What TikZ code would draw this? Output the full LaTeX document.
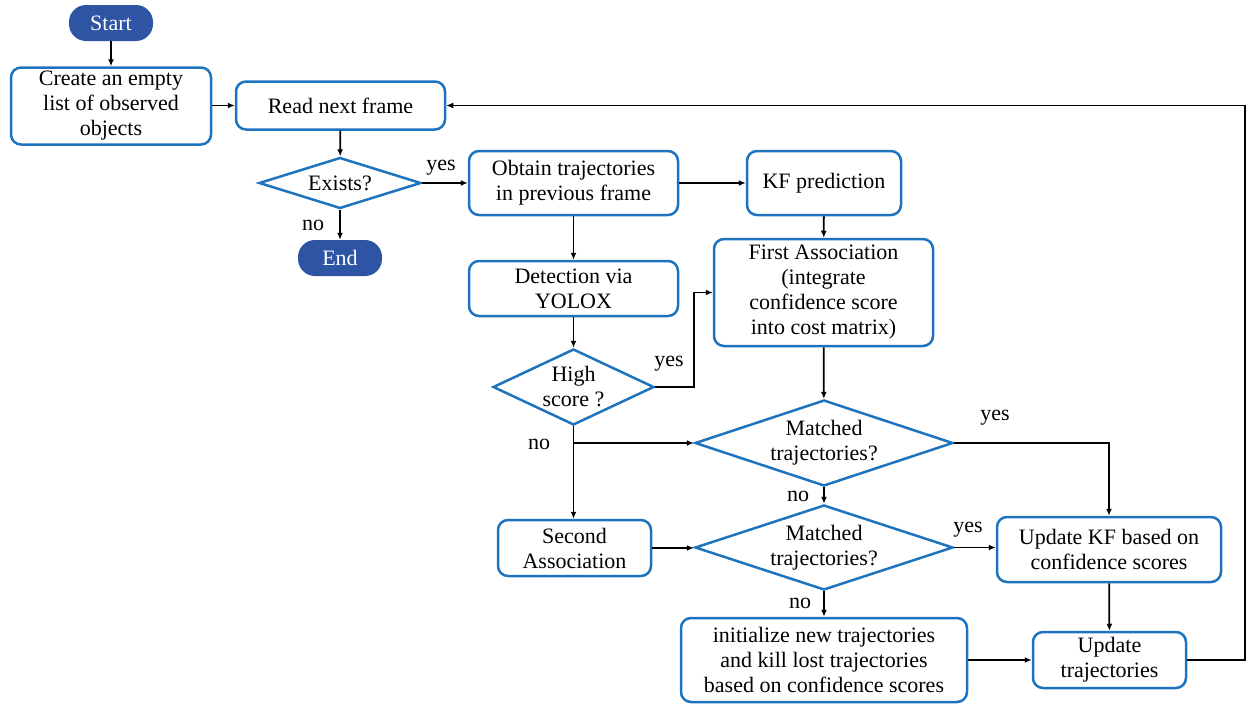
\documentclass[tikz,border=0pt]{standalone}
\usepackage{fontspec}
\setmainfont{Liberation Serif}
\usetikzlibrary{shapes.geometric,arrows.meta}
\definecolor{bblue}{RGB}{30,115,190}
\definecolor{pillc}{RGB}{46,84,164}
\begin{document}
\begin{tikzpicture}[x=1pt,y=-1pt, font=\fontsize{22}{25}\selectfont,
 box/.style={draw=bblue, line width=2.5pt, rounded corners=10pt, align=center, inner sep=0pt},
 dia/.style={draw=bblue, line width=2.5pt, diamond, align=center, inner sep=0pt},
 ml/.style={execute at begin node={\rule{0pt}{21pt}}},
 term/.style={fill=pillc, text=white, rounded corners=17pt, inner sep=0pt, minimum width=84pt, minimum height=36pt},
 arr/.style={line width=1.8pt, -{Latex[length=7pt,width=6pt]}},
 lbl/.style={inner sep=0pt}]
\useasboundingbox (0,0) rectangle (1247,704);

\node[term] (start) at (111,23) {Start};
\node[box, ml, minimum width=200pt, minimum height=77pt] (create) at (111,106) {Create an empty\\list of observed\\objects};
\node[box, minimum width=209pt, minimum height=48pt] (read) at (340.5,105.5) {Read next frame};
\node[dia, shape aspect=3.2, minimum width=162pt, minimum height=51pt] (exists) at (340,183) {Exists?};
\node[term] (end) at (340,258) {End};
\node[box, ml, minimum width=209pt, minimum height=64pt] (obtain) at (573.5,183) {Obtain trajectories\\in previous frame};
\node[box, minimum width=154pt, minimum height=64pt] (kf) at (824,183) {KF prediction};
\node[box, ml, minimum width=209pt, minimum height=55pt] (det) at (573.5,288.5) {Detection via\\YOLOX};
\node[box, ml, minimum width=219pt, minimum height=107pt] (first) at (823.5,292.5) {First Association\\(integrate\\confidence score\\into cost matrix)};
\node[dia, shape aspect=2.1, minimum width=161pt, minimum height=76pt] (high) at (573.5,387) {High\\score ?};
\node[dia, ml, shape aspect=3, minimum width=258pt, minimum height=86pt] (m1) at (824,443) {Matched\\trajectories?};
\node[box, ml, minimum width=153pt, minimum height=56pt] (second) at (574.5,548) {Second\\Association};
\node[dia, ml, shape aspect=3, minimum width=258pt, minimum height=85pt] (m2) at (824,547.5) {Matched\\trajectories?};
\node[box, ml, minimum width=224pt, minimum height=65pt] (ukf) at (1109,549.5) {Update KF based on\\confidence scores};
\node[box, ml, minimum width=286pt, minimum height=84pt] (init) at (824,660) {initialize new trajectories\\and kill lost trajectories\\based on confidence scores};
\node[box, ml, minimum width=153pt, minimum height=56pt] (utraj) at (1109.5,660) {Update\\trajectories};

\draw[arr] (start) -- (create);
\draw[arr] (create.east |- read.west) -- (read.west);
\draw[arr] (read) -- (exists);
\draw[arr] (exists) -- (end);
\draw[arr] (exists.east) -- (obtain.west |- exists.east);
\draw[arr] (obtain.east) -- (kf.west);
\draw[arr] (obtain) -- (det);
\draw[arr] (kf) -- (first);
\draw[arr] (det) -- (high);
\coordinate (hk) at (694,387);
\draw[arr] (high.east) -- (hk) |- (first.west);
\draw[arr] (high.south) -- (high.south |- second.north);
\coordinate (br) at (high.south |- m1.west);
\draw[arr] (br) -- (m1.west);
\draw[arr] (first) -- (m1);
\draw[arr] (m1.south) -- (m2.north);
\draw[arr] (m1.east) -| (ukf.north);
\draw[arr] (second.east) -- (second.east -| m2.west);
\draw[arr] (m2.east) -- (ukf.west |- m2.east);
\draw[arr] (m2.south) -- (init.north);
\draw[arr] (ukf) -- (utraj);
\draw[arr] (init.east) -- (utraj.west);
\coordinate (lp) at (1245,660);
\draw[arr] (utraj.east) -- (lp) |- (read.east);

\node[lbl] (l1) at (441,168) {yes};
\node[lbl] (l2) at (313,225) {no};
\node[lbl] (l3) at (669,364) {yes};
\node[lbl] (l4) at (539,444) {no};
\node[lbl] (l5) at (798,496) {no};
\node[lbl] (l6) at (995,418) {yes};
\node[lbl] (l7) at (968,530) {yes};
\node[lbl] (l8) at (800,603) {no};
\end{tikzpicture}
\end{document}
